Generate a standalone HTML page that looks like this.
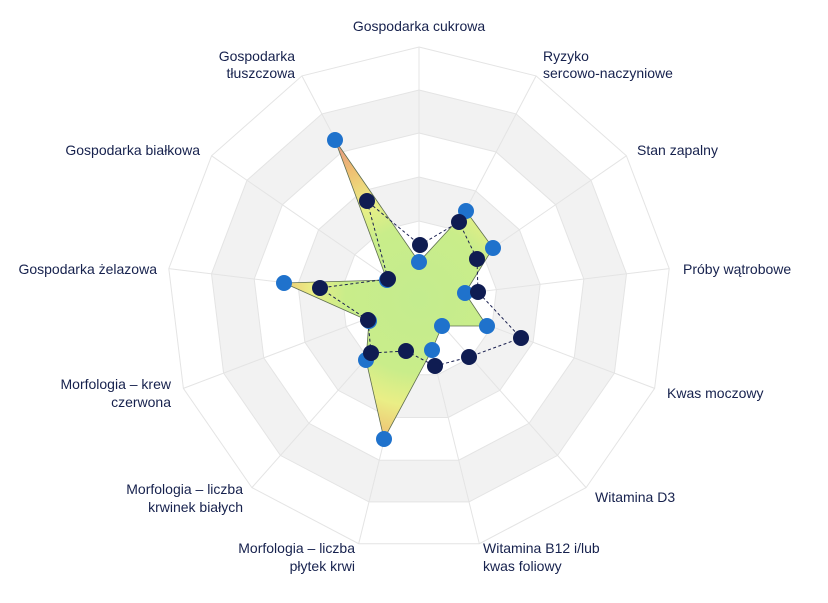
<!DOCTYPE html>
<html><head><meta charset="utf-8"><style>
html,body{margin:0;padding:0;background:#fff;}
svg{display:block;}
text{font-family:"Liberation Sans",Arial,sans-serif;font-size:14px;fill:#16214d;}
</style></head><body>
<svg id="s" width="828" height="603" viewBox="0 0 828 603" xmlns="http://www.w3.org/2000/svg">
<defs>
<radialGradient id="g" gradientUnits="userSpaceOnUse" cx="419" cy="299" r="185">
<stop offset="0" stop-color="#c4ec8e"/>
<stop offset="0.4" stop-color="#c9ed8a"/>
<stop offset="0.58" stop-color="#eaee86"/>
<stop offset="0.78" stop-color="#efc072"/>
<stop offset="1" stop-color="#e08a8a"/>
</radialGradient>
</defs>
<g id="grid"></g>
<polygon id="fill" fill="url(#g)" stroke="#5e6e50" stroke-width="0.8"/>
<polyline id="dash" fill="none" stroke="#1a2050" stroke-width="1" stroke-dasharray="3,2.5"/>
<g id="dots"></g>
<text x="419" y="31" text-anchor="middle">Gospodarka cukrowa</text>
<text x="543" y="61">Ryzyko</text>
<text x="543" y="78">sercowo-naczyniowe</text>
<text x="637" y="155">Stan zapalny</text>
<text x="683" y="274">Próby wątrobowe</text>
<text x="667" y="398">Kwas moczowy</text>
<text x="595" y="502">Witamina D3</text>
<text x="483" y="553">Witamina B12 i/lub</text>
<text x="483" y="571">kwas foliowy</text>
<text x="355" y="553" text-anchor="end">Morfologia – liczba</text>
<text x="355" y="571" text-anchor="end">płytek krwi</text>
<text x="243" y="494" text-anchor="end">Morfologia – liczba</text>
<text x="243" y="512" text-anchor="end">krwinek białych</text>
<text x="171" y="389" text-anchor="end">Morfologia – krew</text>
<text x="171" y="407" text-anchor="end">czerwona</text>
<text x="157" y="274" text-anchor="end">Gospodarka żelazowa</text>
<text x="200" y="155" text-anchor="end">Gospodarka białkowa</text>
<text x="295" y="61" text-anchor="end">Gospodarka</text>
<text x="295" y="78" text-anchor="end">tłuszczowa</text>
</svg>
<script>
var NS="http://www.w3.org/2000/svg",cx=419,cy=299,N=13;
function pt(r,i){var a=i*2*Math.PI/N;return [cx+r*Math.sin(a),cy-r*Math.cos(a)];}
function poly(r){var s=[];for(var i=0;i<N;i++){var p=pt(r,i);s.push(p[0].toFixed(1)+","+p[1].toFixed(1));}return s.join(" ");}
function el(t,at,par){var e=document.createElementNS(NS,t);for(var k in at)e.setAttribute(k,at[k]);par.appendChild(e);return e;}
var g=document.getElementById("grid");
var rings=[252,209,166,122,78,34];
var fills=["#fff","#f2f2f2","#fff","#f2f2f2","#fff","#f2f2f2"];
for(var k=0;k<rings.length;k++)el("polygon",{points:poly(rings[k]),fill:fills[k],stroke:"#e4e4e4","stroke-width":"1"},g);
for(var i=0;i<N;i++){var p=pt(252,i);el("line",{x1:cx,y1:cy,x2:p[0],y2:p[1],stroke:"#e4e4e4","stroke-width":"1"},g);}
var blue=[[419,262],[466,211],[493,248],[465,293],[487,326],[442,326],[432,350],[384,439],[366,360],[369,321],[284,283],[387,280],[335,140]];
var dark=[[420,245],[459,222],[477,259],[478,292],[521,338],[469,357],[435,366],[406,351],[371,353],[368,320],[320,288],[388,279],[367,201]];
var j=function(a){return a.map(function(p){return p[0]+","+p[1];}).join(" ");};
document.getElementById("fill").setAttribute("points",j(blue));
document.getElementById("dash").setAttribute("points",j(dark.concat([dark[0]])));
var d=document.getElementById("dots");
blue.forEach(function(p){el("circle",{cx:p[0],cy:p[1],r:8,fill:"#1f72cc"},d);});
dark.forEach(function(p){el("circle",{cx:p[0],cy:p[1],r:8,fill:"#0f1c52"},d);});
</script>
</body></html>
